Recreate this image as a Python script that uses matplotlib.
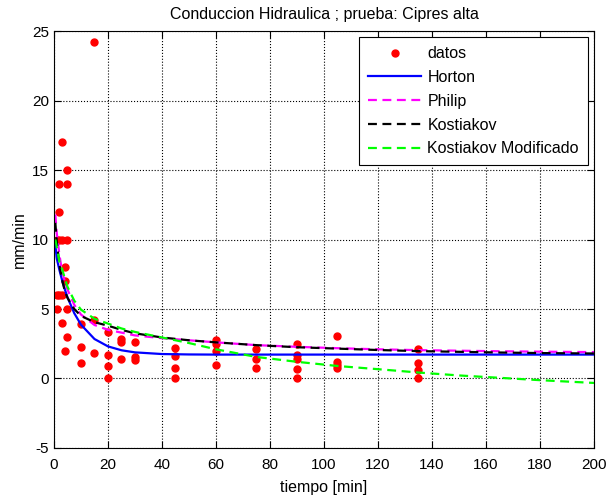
import matplotlib
matplotlib.use("Agg")
import matplotlib.pyplot as plt

plt.rcParams['font.family'] = ['Liberation Sans', 'DejaVu Sans']
plt.rcParams['axes.unicode_minus'] = False

# measured infiltration data (time in min, rate in mm/min)
t_datos = [1, 1, 1,
           2, 2, 2, 2,
           3, 3, 3, 3,
           4, 4, 4,
           5, 5, 5, 5, 5,
           10, 10, 10,
           15, 15, 15,
           20, 20, 20, 20,
           25, 25, 25,
           30, 30, 30,
           45, 45, 45, 45,
           60, 60, 60, 60,
           75, 75, 75,
           90, 90, 90, 90, 90,
           105, 105, 105, 105,
           135, 135, 135, 135]
f_datos = [10, 6, 5,
           14, 12, 10, 6,
           17, 10, 6, 4,
           8, 7, 2,
           15, 14, 10, 5, 3,
           3.9, 2.3, 1.1,
           24.2, 4.2, 1.8,
           3.35, 1.67, 0.88, 0,
           2.85, 2.6, 1.4,
           2.6, 1.55, 1.3,
           2.2, 1.6, 0.77, 0,
           2.75, 2.5, 2.0, 0.95,
           2.15, 1.43, 0.76,
           2.5, 1.67, 1.43, 0.67, 0,
           3.06, 1.19, 1.0, 0.72,
           2.1, 1.08, 0.6, 0]

# fitted model curves
t_mod = [0.5, 1, 2, 3, 4, 5, 7.5, 10, 15, 20, 25, 30, 40, 50, 60,
         75, 90, 105, 120, 135, 150, 165, 180, 200]
horton = [9.6, 8.66, 7.81, 7.07, 6.42, 5.84, 4.7, 3.87, 2.84, 2.31, 2.03, 1.88,
          1.76, 1.73, 1.72, 1.72, 1.72, 1.72, 1.72, 1.72, 1.72, 1.72, 1.72, 1.72]
philip = [11.8, 10.5, 8.9, 7.7, 7.0, 6.4, 5.3, 4.6, 3.85, 3.5, 3.3, 3.1,
          2.9, 2.75, 2.6, 2.4, 2.28, 2.18, 2.1, 2.04, 2.0, 1.96, 1.93, 1.9]
kostiakov = [11.2, 9.9, 8.2, 7.1, 6.3, 5.8, 5.0, 4.5, 4.05, 3.8, 3.5, 3.25,
             2.95, 2.75, 2.6, 2.4, 2.25, 2.15, 2.05, 1.97, 1.92, 1.87, 1.83, 1.8]
kost_mod = [10.0, 9.5, 8.4, 7.9, 7.2, 6.6, 5.6, 4.95, 4.3, 3.95, 3.6, 3.35,
            2.95, 2.55, 2.1, 1.55, 1.2, 0.9, 0.67, 0.43, 0.22, 0.05, -0.12, -0.32]

fig = plt.figure(figsize=(6.06, 4.97), dpi=100)
ax = fig.add_axes([0.0891, 0.0986, 0.8911, 0.839])

ax.plot(t_datos, f_datos, 'o', color='red', markersize=5, label='datos')
ax.plot(t_mod, horton, '-', color='blue', lw=1.6, label='Horton')
ax.plot(t_mod, philip, '--', color='magenta', lw=1.6, dashes=(4, 2.5), label='Philip')
ax.plot(t_mod, kostiakov, '--', color='black', lw=1.6, dashes=(4, 2.5), label='Kostiakov')
ax.plot(t_mod, kost_mod, '--', color='#00ff00', lw=1.6, dashes=(4, 2.5), label='Kostiakov Modificado')

ax.set_xlim(0, 200)
ax.set_ylim(-5, 25)
ax.set_xticks(range(0, 201, 20))
ax.set_yticks(range(-5, 26, 5))
ax.grid(True, color='black', linestyle=':', linewidth=0.8)
ax.tick_params(direction='in', top=True, right=True, length=5, labelsize=11)
ax.tick_params(axis='x', pad=7)
for s in ax.spines.values():
    s.set_linewidth(0.8)

ax.set_title('Conduccion Hidraulica ; prueba: Cipres alta', fontsize=11.5, pad=9)
ax.set_xlabel('tiempo [min]', fontsize=11.5, labelpad=6)
ax.set_ylabel('mm/min', fontsize=11.5)

leg = ax.legend(loc='upper right', numpoints=1, fontsize=11.5, fancybox=False,
                edgecolor='black', framealpha=1, handlelength=3.3,
                handletextpad=0.4, labelspacing=0.55, borderpad=0.55,
                borderaxespad=0.4)
leg.get_frame().set_linewidth(0.8)

fig.savefig('out.png', dpi=100)
